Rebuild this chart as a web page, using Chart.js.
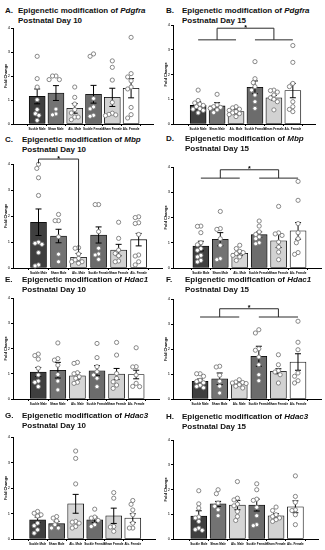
<!DOCTYPE html>
<html>
<head>
<meta charset="utf-8">
<script src="https://cdn.jsdelivr.net/npm/chart.js@4.4.1/dist/chart.umd.min.js"></script>
<style>
  body { margin: 0; background: #fff; }
  #fig { position: relative; width: 325px; height: 550px; overflow: hidden; font-family: "Liberation Sans", Arial, sans-serif; }
  .lt, .tt { position: absolute; font-weight: bold; font-size: 8px; line-height: 10px; color: #111; white-space: nowrap; }
  canvas { position: absolute; }
</style>
</head>
<body>
<div id="fig"></div>
<script>
// groups, same order in every panel
const cats = ['Suckle Male', 'Sham Male', 'Alc. Male', 'Suckle Female', 'Sham Female', 'Alc. Female'];
const yTicks = [0, 1, 2, 3, 4];

// A - Pdgfra, P10
const aMean = [1.15, 1.29, 0.65, 1.24, 1.11, 1.49];
const aSem = [0.31, 0.31, 0.2, 0.37, 0.38, 0.4];
const aPts = [[2.82, 1.89, 1.54, 1.01, 0.6, 0.43, 0.36, 0.15], [2.0, 2.0, 1.85, 1.85, 0.62, 0.42, 0.38], [1.54, 1.11, 0.83, 0.6, 0.46, 0.29, 0.29, 0.18], [2.92, 2.82, 1.06, 0.71, 0.63, 0.36, 0.32], [2.63, 2.36, 1.83, 0.9, 0.45, 0.4, 0.38, 0.35], [3.61, 2.1, 1.96, 1.8, 1.54, 1.46, 0.69, 0.39, 0.25]];

// B - Pdgfra, P15
const bMean = [0.75, 0.73, 0.5, 1.48, 1.06, 1.35];
const bSem = [0.15, 0.13, 0.09, 0.26, 0.09, 0.29];
const bPts = [[1.37, 0.95, 0.85, 0.8, 0.75, 0.7, 0.62, 0.6, 0.55, 0.45], [1.2, 0.77, 0.7, 0.67, 0.63, 0.57, 0.46], [0.7, 0.65, 0.6, 0.55, 0.5, 0.45, 0.42, 0.38, 0.3], [2.52, 1.83, 1.67, 1.51, 1.37, 1.17, 0.9, 0.63], [1.37, 1.35, 1.29, 1.17, 1.06, 1.0, 0.9, 0.57], [3.17, 2.49, 1.64, 1.51, 0.9, 0.7, 0.59, 0.5]];

// C - Mbp, P10
const cMean = [1.76, 1.23, 0.41, 1.27, 0.69, 1.09];
const cSem = [0.51, 0.26, 0.15, 0.31, 0.22, 0.24];
const cPts = [[3.99, 3.83, 3.47, 2.79, 0.99, 0.95, 0.91, 0.59, 0.12, 0.08], [2.06, 1.82, 1.82, 1.2, 0.53, 0.24], [0.78, 0.76, 0.54, 0.37, 0.31, 0.24, 0.24, 0.18], [2.44, 2.44, 1.4, 0.76, 0.54, 0.5, 0.33], [1.76, 1.14, 0.69, 0.56, 0.47, 0.27, 0.24], [1.97, 1.94, 1.74, 1.71, 1.29, 0.5, 0.46, 0.24, 0.12]];

// D - Mbp, P15
const dMean = [0.87, 1.14, 0.58, 1.32, 1.08, 1.47];
const dSem = [0.19, 0.26, 0.09, 0.11, 0.27, 0.33];
const dPts = [[1.66, 1.65, 1.4, 1.0, 0.92, 0.77, 0.7, 0.5, 0.44, 0.3, 0.24], [2.24, 1.56, 1.53, 1.16, 0.9, 0.37, 0.33], [0.9, 0.77, 0.66, 0.61, 0.57, 0.5, 0.44, 0.3], [1.86, 1.66, 1.43, 1.33, 1.23, 1.16, 1.0, 0.96], [2.44, 1.39, 1.35, 1.29, 1.03, 0.83, 0.63, 0.33], [3.43, 2.68, 1.76, 1.4, 1.16, 1.0, 0.61, 0.54]];

// E - Hdac1, P10
const eMean = [1.07, 1.14, 0.92, 1.12, 0.99, 0.97];
const eSem = [0.18, 0.31, 0.13, 0.2, 0.22, 0.17];
const ePts = [[1.78, 1.72, 1.58, 1.22, 0.95, 0.71, 0.66, 0.49], [2.22, 1.6, 1.54, 1.34, 0.97, 0.71, 0.36], [1.45, 1.41, 1.04, 1.0, 0.88, 0.82, 0.66, 0.62], [2.2, 1.64, 1.28, 1.08, 0.95, 0.82, 0.49], [2.24, 1.74, 1.01, 0.82, 0.68, 0.55, 0.42], [2.03, 1.28, 1.27, 0.95, 0.62, 0.5, 0.49]];

// F - Hdac1, P15
const fMean = [0.71, 0.81, 0.64, 1.71, 1.11, 1.48];
const fSem = [0.09, 0.23, 0.07, 0.4, 0.1, 0.33];
const fPts = [[1.01, 1.01, 0.91, 0.75, 0.7, 0.65, 0.55, 0.5, 0.45], [1.31, 1.28, 0.95, 0.71, 0.51, 0.24], [0.77, 0.68, 0.66, 0.64, 0.62, 0.57, 0.51, 0.44], [2.77, 2.64, 2.01, 1.95, 1.68, 1.37, 0.97, 0.73], [1.77, 1.37, 1.13, 1.08, 0.97, 0.64], [3.11, 2.27, 1.97, 1.04, 0.91, 0.73, 0.64]];

// G - Hdac3, P10
const gMean = [0.75, 0.6, 1.38, 0.75, 0.91, 0.82];
const gSem = [0.11, 0.09, 0.37, 0.11, 0.3, 0.17];
const gPts = [[1.08, 1.01, 0.95, 0.9, 0.62, 0.52, 0.36, 0.23], [0.88, 0.82, 0.71, 0.56, 0.43, 0.43], [3.45, 3.16, 2.16, 0.69, 0.66, 0.62, 0.49, 0.43], [1.17, 0.86, 0.82, 0.73, 0.56, 0.49], [1.82, 1.6, 0.49, 0.47, 0.3], [1.51, 1.36, 1.14, 0.95, 0.62, 0.43, 0.43]];

// H - Hdac3, P15
const hMean = [0.93, 1.42, 1.37, 1.37, 0.94, 1.3];
const hSem = [0.21, 0.1, 0.19, 0.24, 0.08, 0.24];
const hPts = [[1.95, 1.42, 1.25, 0.89, 0.85, 0.71, 0.44, 0.38, 0.35], [1.99, 1.83, 1.45, 1.32, 1.18, 0.94], [2.32, 1.65, 1.58, 1.41, 1.34, 1.11, 0.91, 0.75], [2.23, 1.99, 1.61, 1.56, 1.28, 0.94, 0.58, 0.54], [1.29, 1.15, 0.98, 0.91, 0.85, 0.78, 0.71], [2.55, 1.72, 1.48, 1.18, 1.15, 0.98, 0.58]];

// significance brackets (heights in fold change units)
const bBracket = { kind: 'sex', low: 3.4, high: 3.87 };
const cBracket = { kind: 'pair', from: 0, to: 2, y: 4.19, leftEnd: 4.02, rightEnd: 0.62 };
const dBracket = { kind: 'sex', low: 3.56, high: 3.89 };
const fBracket = { kind: 'sex', low: 3.28, high: 3.61 };

const panels = [
  { tag: 'A.', gene: 'Pdgfra', day: 10, mean: aMean, sem: aSem, pts: aPts },
  { tag: 'B.', gene: 'Pdgfra', day: 15, mean: bMean, sem: bSem, pts: bPts, bracket: bBracket },
  { tag: 'C.', gene: 'Mbp', day: 10, mean: cMean, sem: cSem, pts: cPts, bracket: cBracket },
  { tag: 'D.', gene: 'Mbp', day: 15, mean: dMean, sem: dSem, pts: dPts, bracket: dBracket },
  { tag: 'E.', gene: 'Hdac1', day: 10, mean: eMean, sem: eSem, pts: ePts },
  { tag: 'F.', gene: 'Hdac1', day: 15, mean: fMean, sem: fSem, pts: fPts, bracket: fBracket },
  { tag: 'G.', gene: 'Hdac3', day: 10, mean: gMean, sem: gSem, pts: gPts },
  { tag: 'H.', gene: 'Hdac3', day: 15, mean: hMean, sem: hSem, pts: hPts }
];

// where each panel sits on the page
const boxes = [
  { L: 13, c0: 28.3, s: 23, top: 28, bottom: 124, lx: 5, tx: 18, ty: 6 },
  { L: 172.7, c0: 189, s: 23.2, top: 25, bottom: 124, lx: 166, tx: 182, ty: 6 },
  { L: 12.7, c0: 28.7, s: 24.5, top: 164, bottom: 268, lx: 5, tx: 22, ty: 135 },
  { L: 173, c0: 192, s: 23.8, top: 167, bottom: 268, lx: 166, tx: 185, ty: 134 },
  { L: 12.7, c0: 28.7, s: 23.9, top: 298, bottom: 399, lx: 5, tx: 22, ty: 275 },
  { L: 173.3, c0: 191.3, s: 23.9, top: 299, bottom: 399, lx: 166, tx: 185, ty: 275 },
  { L: 12.7, c0: 28.3, s: 23.3, top: 437, bottom: 539, lx: 5, tx: 22, ty: 411 },
  { L: 173.3, c0: 190, s: 23.6, top: 440, bottom: 539, lx: 166, tx: 182, ty: 412 }
];

const barColors = ['#3f3f3f', '#737373', '#d6d6d6', '#6c6c6c', '#d2d2d2', '#ffffff'];
const R = 2.1; // dot radius

// spread dots sideways so they don't sit on top of each other
function swarm(pts, s, pxY) {
  const out = [];
  const steps = [0, -1, 1, -2, 2, -3, 3, -4, 4];
  pts.forEach((grp, i) => {
    const placed = [];
    grp.forEach(v => {
      const py = v * pxY;
      let dx = 0;
      for (const k of steps) {
        dx = k * R;
        if (placed.every(p => Math.hypot(p.dx - dx, p.py - py) >= 2 * R)) break;
      }
      placed.push({ dx, py });
      out.push({ x: i + dx / s, y: v });
    });
  });
  return out;
}

function extras(p) {
  return {
    id: 'extras',
    afterDatasetDraw(chart, args) {
      if (args.index !== 0) return;
      const ctx = chart.ctx, xs = chart.scales.x, ys = chart.scales.y;
      ctx.save();
      ctx.strokeStyle = '#000';
      ctx.lineWidth = 1;
      p.mean.forEach((m, i) => {
        const x = xs.getPixelForValue(i);
        const y1 = ys.getPixelForValue(m + p.sem[i]);
        const y2 = ys.getPixelForValue(Math.max(0, m - p.sem[i]));
        ctx.beginPath();
        ctx.moveTo(x, y1); ctx.lineTo(x, y2);
        ctx.moveTo(x - 3, y1); ctx.lineTo(x + 3, y1);
        ctx.moveTo(x - 3, y2); ctx.lineTo(x + 3, y2);
        ctx.stroke();
      });
      ctx.restore();
    },
    afterDraw(chart) {
      const br = p.bracket;
      if (!br) return;
      const ctx = chart.ctx, xs = chart.scales.x, ys = chart.scales.y;
      const X = v => xs.getPixelForValue(v), Y = v => ys.getPixelForValue(v);
      ctx.save();
      ctx.strokeStyle = '#2a2a2a';
      ctx.lineWidth = 1;
      ctx.fillStyle = '#000';
      ctx.font = 'bold 7px "Liberation Sans", Arial';
      ctx.textAlign = 'center';
      ctx.textBaseline = 'alphabetic';
      ctx.beginPath();
      if (br.kind === 'sex') {
        ctx.moveTo(X(0), Y(br.low)); ctx.lineTo(X(2), Y(br.low));
        ctx.moveTo(X(3), Y(br.low)); ctx.lineTo(X(5), Y(br.low));
        ctx.moveTo(X(1), Y(br.low)); ctx.lineTo(X(1), Y(br.high));
        ctx.lineTo(X(4), Y(br.high)); ctx.lineTo(X(4), Y(br.low));
        ctx.stroke();
        ctx.fillText('*', X(2.5), Y(br.high) + 1.5);
      } else {
        ctx.moveTo(X(br.from), Y(br.leftEnd)); ctx.lineTo(X(br.from), Y(br.y));
        ctx.lineTo(X(br.to), Y(br.y)); ctx.lineTo(X(br.to), Y(br.rightEnd));
        ctx.stroke();
        ctx.fillText('*', X((br.from + br.to) / 2), Y(br.y) + 1.5);
      }
      ctx.restore();
    }
  };
}

const fig = document.getElementById('fig');

panels.forEach((p, n) => {
  const b = boxes[n];

  const lt = document.createElement('div');
  lt.className = 'lt';
  lt.style.left = b.lx + 'px';
  lt.style.top = b.ty + 'px';
  lt.textContent = p.tag;
  fig.appendChild(lt);

  const tt = document.createElement('div');
  tt.className = 'tt';
  tt.style.left = b.tx + 'px';
  tt.style.top = b.ty + 'px';
  tt.innerHTML = 'Epigenetic modification of <i>' + p.gene + '</i><br>Postnatal Day ' + p.day;
  fig.appendChild(tt);

  const left = b.L - 12, top = b.top - 14;
  const w = Math.round(b.c0 + 5.55 * b.s - left + 2);
  const h = Math.round(b.bottom - b.top + 24);
  const cv = document.createElement('canvas');
  cv.width = w; cv.height = h;
  cv.style.left = left + 'px';
  cv.style.top = top + 'px';
  cv.style.width = w + 'px';
  cv.style.height = h + 'px';
  fig.appendChild(cv);

  const pxY = (b.bottom - b.top) / 4;

  new Chart(cv, {
    type: 'bar',
    data: {
      datasets: [{
        type: 'bar',
        data: p.mean.map((m, i) => ({ x: i, y: m })),
        backgroundColor: barColors,
        borderColor: '#000',
        borderWidth: 0.8,
        borderSkipped: false,
        barThickness: 16,
        order: 2
      }, {
        type: 'scatter',
        data: swarm(p.pts, b.s, pxY),
        pointRadius: R,
        pointBackgroundColor: '#ffffff',
        pointBorderColor: '#7a7a7a',
        pointBorderWidth: 0.9,
        clip: false,
        order: 1
      }]
    },
    options: {
      responsive: false,
      animation: false,
      devicePixelRatio: 1,
      layout: { padding: { top: 14, right: 2, left: 0, bottom: 0 } },
      plugins: { legend: { display: false }, tooltip: { enabled: false } },
      scales: {
        x: {
          type: 'linear',
          min: -(b.c0 - b.L) / b.s,
          max: 5.55,
          afterBuildTicks: ax => { ax.ticks = cats.map((c, i) => ({ value: i })); },
          afterFit: ax => { ax.height = 10; },
          ticks: {
            callback: v => cats[v],
            autoSkip: false,
            maxRotation: 0,
            padding: 1,
            color: '#000',
            font: { size: 3, weight: 'bold', family: '"Liberation Sans", Arial' }
          },
          grid: { drawOnChartArea: false, tickLength: 2, color: '#000' },
          border: { color: '#000', width: 1 }
        },
        y: {
          min: 0,
          max: 4,
          afterBuildTicks: ax => { ax.ticks = yTicks.map(v => ({ value: v })); },
          afterFit: ax => { ax.width = 12; },
          ticks: {
            padding: 1,
            color: '#000',
            font: { size: 4, family: '"Liberation Sans", Arial' }
          },
          grid: { drawOnChartArea: false, tickLength: 2, color: '#000' },
          border: { color: '#000', width: 1 },
          title: {
            display: true,
            text: 'Fold Change',
            color: '#000',
            padding: { top: 2, bottom: 0 },
            font: { size: 4, weight: 'bold', family: '"Liberation Sans", Arial' }
          }
        }
      }
    },
    plugins: [extras(p)]
  });
});
</script>
</body>
</html>
